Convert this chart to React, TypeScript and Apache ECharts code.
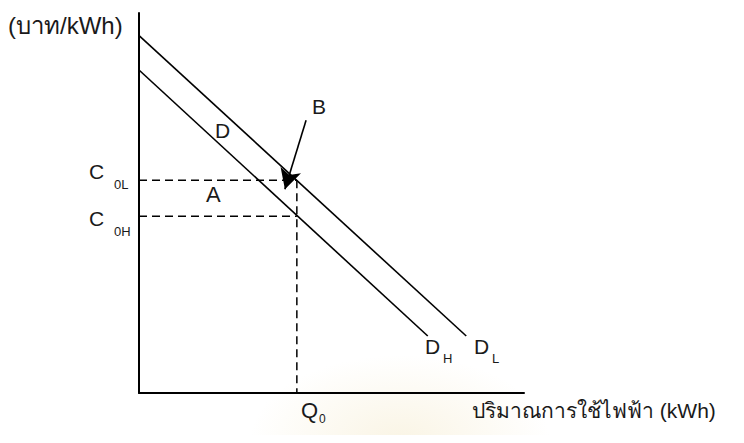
import React, { useEffect, useRef } from "react";
import * as echarts from "echarts";

// Data (abstract units: quantity 0..100, price 0..100)
const demandLow: [number, number][] = [[-1, 95], [85, 15]]; // D_L
const demandHigh: [number, number][] = [[0, 85], [75, 15]]; // D_H
const q0 = 41;
const c0L = 56;
const c0H = 46.5;
const arrowFrom: [number, number] = [43.4, 71.8];
const arrowTo: [number, number] = [37.9, 53.6];

const FONT = "'Liberation Sans', Arial, 'Noto Sans', sans-serif";
const TXT = "#1a1a1a";

function txt(text: string, x: number, y: number, size: number, extra: any = {}) {
  return {
    type: "text",
    x,
    y,
    style: {
      text,
      fontSize: size,
      fontFamily: FONT,
      fill: TXT,
      textAlign: "left",
      textVerticalAlign: "middle",
      ...extra,
    },
    silent: true,
  };
}

export default function App() {
  const ref = useRef<HTMLDivElement>(null);
  useEffect(() => {
    if (!ref.current) return;
    const chart = echarts.init(ref.current, undefined, { renderer: "svg" });
    const dashed = { color: "#000", width: 1.5, type: [8, 5] as any };
    chart.setOption({
      animation: false,
      backgroundColor: "#ffffff",
      grid: { left: 139, top: 13, width: 385, height: 380 },
      xAxis: {
        type: "value",
        min: 0,
        max: 100,
        axisLine: { show: true, onZero: false, lineStyle: { color: "#000", width: 2 } },
        axisTick: { show: false },
        axisLabel: { show: false },
        splitLine: { show: false },
      },
      yAxis: {
        type: "value",
        min: 0,
        max: 100,
        axisLine: { show: true, onZero: false, lineStyle: { color: "#000", width: 2 } },
        axisTick: { show: false },
        axisLabel: { show: false },
        splitLine: { show: false },
      },
      graphic: [
        {
          type: "ellipse",
          shape: { cx: 400, cy: 440, rx: 150, ry: 85 },
          style: {
            fill: {
              type: "radial",
              x: 0.5,
              y: 0.5,
              r: 0.5,
              colorStops: [
                { offset: 0, color: "rgba(240,225,180,0.35)" },
                { offset: 1, color: "rgba(240,225,180,0)" },
              ],
            },
          },
          z: -10,
          silent: true,
        },
        txt("(บาท/kWh)", 8, 25, 24),
        txt("B", 312, 106, 21),
        txt("D", 215, 130, 21),
        txt("A", 206, 194, 22),
        txt("C", 89, 171, 21),
        txt("0L", 114, 184, 13),
        txt("C", 89, 218, 21),
        txt("0H", 114, 231, 13),
        txt("D", 425, 346, 21),
        txt("H", 443, 358, 13),
        txt("D", 474, 346, 21),
        txt("L", 492, 358, 13),
        txt("Q", 301, 410, 22),
        txt("0", 319, 419, 12),
        txt("ปริมาณการใช้ไฟฟ้า (kWh)", 472, 410, 21),
      ],
      series: [
        {
          type: "line",
          data: demandLow,
          showSymbol: false,
          clip: false,
          lineStyle: { color: "#000", width: 1.6 },
          silent: true,
        },
        {
          type: "line",
          data: demandHigh,
          showSymbol: false,
          clip: false,
          lineStyle: { color: "#000", width: 1.6 },
          silent: true,
          markLine: {
            silent: true,
            symbol: ["none", "arrow"],
            symbolSize: [16, 20],
            label: { show: false },
            lineStyle: { color: "#000", width: 1.6, type: "solid" },
            data: [[{ coord: arrowFrom }, { coord: arrowTo }]],
          },
        },
        {
          type: "line",
          data: [[0, c0L], [q0, c0L]],
          showSymbol: false,
          lineStyle: dashed,
          silent: true,
        },
        {
          type: "line",
          data: [[0, c0H], [q0, c0H]],
          showSymbol: false,
          lineStyle: dashed,
          silent: true,
        },
        {
          type: "line",
          data: [[q0, c0L], [q0, 0]],
          showSymbol: false,
          lineStyle: dashed,
          silent: true,
        },
      ],
    });
    return () => chart.dispose();
  }, []);
  return <div ref={ref} style={{ width: 744, height: 443, margin: -8 }} />;
}
